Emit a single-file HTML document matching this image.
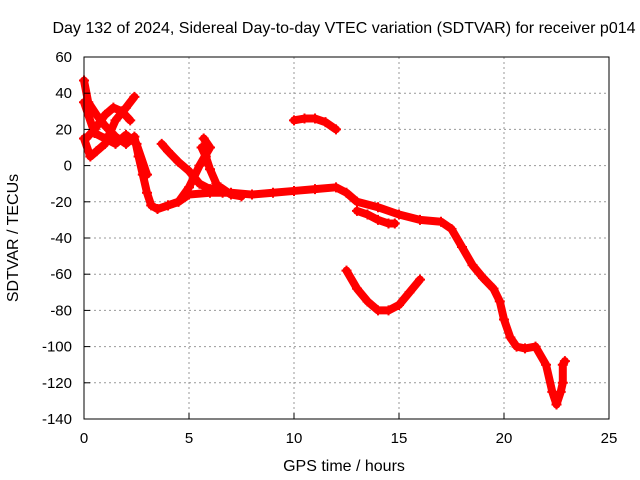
<!DOCTYPE html>
<html><head><meta charset="utf-8"><style>
body{margin:0;background:#fff}
svg{display:block;font-family:"Liberation Sans",sans-serif}
</style></head><body>
<svg id="chart" width="640" height="480">
<text x="344" y="33" text-anchor="middle" font-size="16">Day 132 of 2024, Sidereal Day-to-day VTEC variation (SDTVAR) for receiver p014</text>
<g id="grid"></g>
<g id="series"></g>
<rect x="84" y="57" width="525" height="362" fill="none" stroke="#000"/>
<g id="ticks"></g>
<text x="344" y="471" text-anchor="middle" font-size="16">GPS time / hours</text>
<text transform="translate(18,238) rotate(-90)" text-anchor="middle" font-size="16">SDTVAR / TECUs</text>
</svg>
<script>
const xTicks=[0,5,10,15,20,25];
const yTicks=[60,40,20,0,-20,-40,-60,-80,-100,-120,-140];
const trace1=[[0,47],[0.2,35],[0.6,28],[1.0,22],[1.5,16],[2.0,12],[2.4,16],[2.6,5],[2.8,-5],[3.0,-15],[3.2,-22],[3.5,-24],[4.0,-22],[4.5,-20],[5.0,-16],[6,-15],[7,-15],[8,-16],[9,-15],[10,-14],[11,-13],[12,-12],[12.5,-15],[13,-20],[14,-23],[15,-27],[16,-30],[17,-31],[17.5,-35],[18,-45],[18.5,-55],[19,-62],[19.5,-68],[19.8,-75],[20,-85],[20.3,-95],[20.6,-100],[21,-101],[21.5,-100],[22,-110],[22.3,-125],[22.5,-132],[22.7,-125],[22.8,-120],[22.8,-110],[22.9,-108]];
const trace2=[[0,15],[0.3,5],[0.6,8],[1,12],[1.5,25],[2,32],[2.4,38]];
const trace3=[[0,35],[0.5,18],[1,15],[1.5,12],[2,17],[2.5,12],[3,-5]];
const trace4=[[0.1,15],[0.5,20],[1,28],[1.4,32],[1.8,30],[2.2,25]];
const trace5=[[3.7,12],[4,8],[4.5,2],[5,-3],[5.5,-10],[6,-13],[6.5,-12],[7,-16],[7.5,-17]];
const trace6=[[4,-22],[4.5,-20],[5,-12],[5.5,0],[6,10],[5.7,15]];
const trace7=[[5.6,10],[5.8,5],[6,-2],[6.3,-10],[6.6,-15]];
const trace8=[[10,25],[10.5,26],[11,26],[11.5,24],[12,20]];
const trace9=[[13,-25],[13.5,-27],[14,-30],[14.5,-32],[14.8,-32]];
const trace10=[[12.5,-58],[13,-68],[13.5,-75],[14,-80],[14.5,-80],[15,-77],[15.5,-70],[16,-63]];
const traces=[trace1,trace2,trace3,trace4,trace5,trace6,trace7,trace8,trace9,trace10];
const X=v=>84+v*21, Y=v=>57+(60-v)*362/200;
const NS="http://www.w3.org/2000/svg";
const grid=document.getElementById('grid'),ticks=document.getElementById('ticks'),ser=document.getElementById('series');
function mk(tag,attrs,parent){const e=document.createElementNS(NS,tag);for(const k in attrs)e.setAttribute(k,attrs[k]);parent.appendChild(e);return e;}
xTicks.forEach(t=>{
 if(t>0&&t<25){const l=mk('line',{x1:X(t),x2:X(t),y1:57,y2:419,stroke:'#999','stroke-dasharray':'2,3'},grid);
 
 }
 const tk=mk('line',{x1:X(t),x2:X(t),y1:419,y2:413,stroke:'#000'},ticks);
 
 
 const tx=mk('text',{x:X(t),y:443,'text-anchor':'middle','font-size':15},ticks);tx.textContent=t;
 
 
});
yTicks.forEach(t=>{
 if(t<60&&t>-140){const l=mk('line',{x1:84,x2:609,y1:Y(t),y2:Y(t),stroke:'#999','stroke-dasharray':'2,3'},grid);
 
 }
 const tk=mk('line',{x1:84,x2:90,y1:Y(t),y2:Y(t),stroke:'#000'},ticks);
 
 
 const tx=mk('text',{x:72,y:Y(t)+5,'text-anchor':'end','font-size':15},ticks);tx.textContent=t;
 
 
});
traces.forEach(tr=>{
 const p=mk('polyline',{points:tr.map(d=>X(d[0])+','+Y(d[1])).join(' '),fill:'none',stroke:'#f00','stroke-width':8,'stroke-linejoin':'round','stroke-linecap':'round'},ser);
 
 
 tr.forEach(d=>{
  const m=mk('path',{d:`M${X(d[0])-5},${Y(d[1])}h10M${X(d[0])},${Y(d[1])-5}v10`,stroke:'#f00','stroke-width':2},ser);
  
  
 });
});
</script>
</body></html>
